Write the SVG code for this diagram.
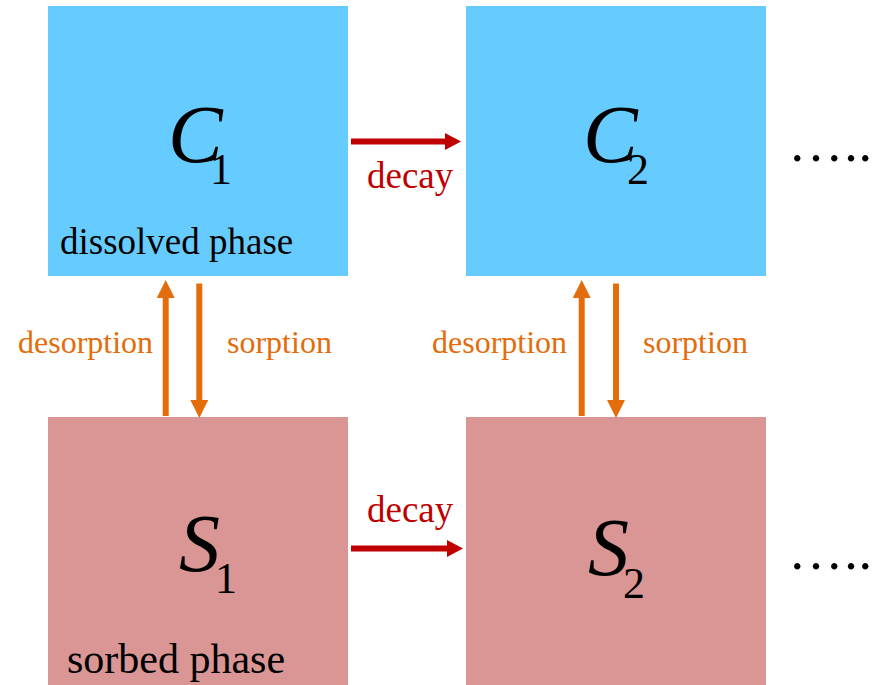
<svg xmlns="http://www.w3.org/2000/svg" width="873" height="685" viewBox="0 0 873 685">
<style>
.t{font-family:"Liberation Serif","Times New Roman",serif}
.blue{fill:#66CCFF}
.pink{fill:#D99694}
.var{font-style:italic;font-size:82px;fill:#000}
.sub{font-style:normal;font-size:44px}
.lab{font-size:37px;fill:#000}
.decay{font-size:37px;fill:#C00000}
.sorb{font-size:32px;fill:#E46C0A}
.dots{font-size:54px;fill:#000}
.red{stroke:#C00000;stroke-width:6;fill:none}
.org{stroke:#E46C0A;stroke-width:6;fill:none}
</style>
<defs>
<marker id="hr" markerUnits="userSpaceOnUse" markerWidth="16" markerHeight="17" refX="0" refY="8.5" orient="auto"><path d="M0,0 L16,8.5 L0,17 z" fill="#C00000"/></marker>
<marker id="ho" markerUnits="userSpaceOnUse" markerWidth="18" markerHeight="18" refX="0" refY="9" orient="auto"><path d="M0,0 L18,9 L0,18 z" fill="#E46C0A"/></marker>
</defs>
<g id="C1">
<rect class="blue" x="48" y="6" width="300" height="270"/>
<text class="t var" x="168" y="162">C<tspan class="sub" x="210" y="184">1</tspan></text>
<text class="t lab" x="60" y="254">dissolved phase</text>
</g>
<g id="C2">
<rect class="blue" x="466" y="6" width="300" height="270"/>
<text class="t var" x="583" y="162">C<tspan class="sub" x="627" y="184">2</tspan></text>
</g>
<g id="S1">
<rect class="pink" x="48" y="417" width="300" height="268"/>
<text class="t var" x="179" y="571">S<tspan class="sub" x="215" y="593">1</tspan></text>
<text class="t" style="font-size:42px" x="67" y="673">sorbed phase</text>
</g>
<g id="S2">
<rect class="pink" x="466" y="417" width="300" height="268"/>
<text class="t var" x="588" y="575">S<tspan class="sub" x="623" y="598">2</tspan></text>
</g>
<g id="dots1"><text class="t dots" x="790.5 809.3 827.6 844.3 858.6" y="161">.....</text></g>
<g id="dots2"><text class="t dots" x="790.5 809.3 827.6 844.3 858.6" y="569">.....</text></g>
<g id="connectors">
<line class="red" x1="351" y1="141.5" x2="445" y2="141.5" marker-end="url(#hr)"/>
<text class="t decay" x="367" y="188">decay</text>
<line class="red" x1="351" y1="548.5" x2="447" y2="548.5" marker-end="url(#hr)"/>
<text class="t decay" x="367" y="521.5">decay</text>
<line class="org" x1="165.7" y1="416" x2="165.7" y2="298" marker-end="url(#ho)"/>
<line class="org" x1="199.3" y1="283.5" x2="199.3" y2="400" marker-end="url(#ho)"/>
<line class="org" x1="581.7" y1="416" x2="581.7" y2="298" marker-end="url(#ho)"/>
<line class="org" x1="616" y1="283.5" x2="616" y2="400" marker-end="url(#ho)"/>
<text class="t sorb" x="18" y="353">desorption</text>
<text class="t sorb" x="227" y="353">sorption</text>
<text class="t sorb" x="432" y="353">desorption</text>
<text class="t sorb" x="643" y="353">sorption</text>
</g>
</svg>
